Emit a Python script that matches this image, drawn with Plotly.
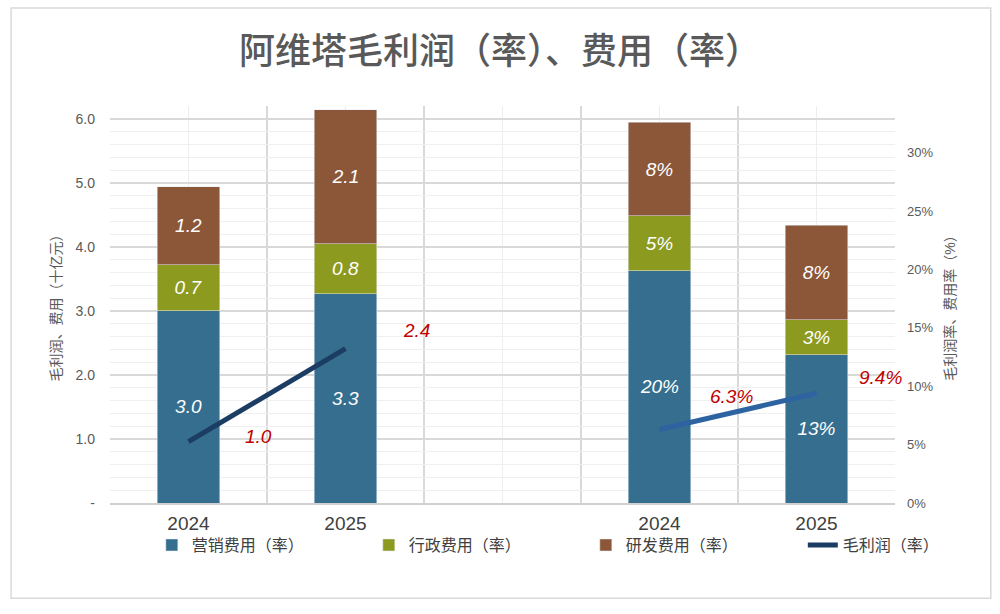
import plotly.graph_objects as go

# category slots: two years in billions, an empty gap, two years as rates
years = ["2024", "2025", "", "2024", "2025"]
x_amt = [0, 1]
x_rate = [3, 4]

# amounts, RMB billion
marketing_amt = [3.0, 3.27]
admin_amt = [0.72, 0.78]
rnd_amt = [1.22, 2.09]
gross_profit_amt = [0.96, 2.41]

# ratios to revenue
marketing_rate = [0.199, 0.127]
admin_rate = [0.047, 0.030]
rnd_rate = [0.080, 0.081]
gross_margin_rate = [0.063, 0.094]

left_ticks = [0, 1, 2, 3, 4, 5, 6]
left_ticktext = ["-", "1.0", "2.0", "3.0", "4.0", "5.0", "6.0"]
right_ticks = [0, 0.05, 0.10, 0.15, 0.20, 0.25, 0.30]
right_ticktext = ["0%", "5%", "10%", "15%", "20%", "25%", "30%"]

C_MKT = "#356E8E"
C_ADM = "#8C9A1F"
C_RND = "#8B5738"
C_GP_AMT = "#1C3D63"
C_GP_RATE = "#2C63A0"
FONT = "Liberation Sans, Noto Sans CJK SC, sans-serif"

fig = go.Figure()

bar_series = [
    ("营销费用（率）", marketing_amt, marketing_rate, C_MKT),
    ("行政费用（率）", admin_amt, admin_rate, C_ADM),
    ("研发费用（率）", rnd_amt, rnd_rate, C_RND),
]
bar_text = dict(color="white", size=19, family=FONT, style="italic")
for name, amt, rate, color in bar_series:
    fig.add_trace(go.Bar(x=x_amt, y=amt, name=name, marker_color=color,
                         width=0.4, texttemplate="%{y:.1f}",
                         textposition="inside", insidetextanchor="middle",
                         textfont=bar_text, legendgroup=name,
                         hoverinfo="skip"))
    fig.add_trace(go.Bar(x=x_rate, y=rate, name=name, marker_color=color,
                         width=0.4, texttemplate="%{y:.0%}",
                         textposition="inside", insidetextanchor="middle",
                         textfont=bar_text, legendgroup=name,
                         showlegend=False, yaxis="y2", hoverinfo="skip"))

fig.add_trace(go.Scatter(x=x_amt, y=gross_profit_amt, mode="lines",
                         name="毛利润（率）", line=dict(color=C_GP_AMT, width=5),
                         hoverinfo="skip"))
fig.add_trace(go.Scatter(x=x_rate, y=gross_margin_rate, mode="lines",
                         name="毛利润（率）", showlegend=False, yaxis="y2",
                         line=dict(color=C_GP_RATE, width=5),
                         hoverinfo="skip"))

# red value labels beside the line ends
label_font = dict(color="#C00000", size=19, family=FONT, style="italic")
amt_shift = [(70, 5), (71, 18)]
rate_shift = [(72, 33), (64, 16)]
for xv, yv, (dx, dy) in zip(x_amt, gross_profit_amt, amt_shift):
    fig.add_annotation(x=xv, y=yv, yref="y", text=f"{yv:.1f}",
                       showarrow=False, xshift=dx, yshift=dy, font=label_font)
for xv, yv, (dx, dy) in zip(x_rate, gross_margin_rate, rate_shift):
    fig.add_annotation(x=xv, y=yv, yref="y2", text=f"{yv * 100:.1f}%",
                       showarrow=False, xshift=dx, yshift=dy, font=label_font)

# outer chart frame
fig.add_shape(type="rect", xref="paper", yref="paper",
              x0=-0.126, x1=1.122, y0=-0.24, y1=1.247,
              line=dict(color="#D9D9D9", width=1.5), layer="below")

fig.update_layout(
    width=1000, height=614,
    barmode="stack",
    plot_bgcolor="white", paper_bgcolor="white",
    font=dict(family=FONT, color="#595959"),
    margin=dict(l=110, r=105, t=106, b=111, autoexpand=False),
    title=dict(text="阿维塔毛利润（率）、费用（率）", x=0.5, xanchor="center",
               y=0.917, yanchor="middle",
               font=dict(size=36, color="#595959", family=FONT, weight=500)),
    xaxis=dict(range=[-0.5, 4.5], tickmode="array",
               tickvals=list(range(len(years))), ticktext=years,
               tickfont=dict(size=19, color="#404040"),
               showgrid=True, gridcolor="#EDEDED", gridwidth=1,
               minor=dict(tick0=0.5, dtick=1, showgrid=True,
                          gridcolor="#D9D9D9", gridwidth=1.5),
               showline=True, linecolor="#D0D0D0", linewidth=1.5,
               ticks="", ticklabelstandoff=2, zeroline=False,
               automargin=False),
    yaxis=dict(range=[0, 6.2], tickmode="array", tickvals=left_ticks,
               ticktext=left_ticktext, tickfont=dict(size=14, color="#595959"),
               showgrid=True, gridcolor="#D9D9D9", gridwidth=1.5,
               minor=dict(dtick=0.2, showgrid=True, gridcolor="#EFEFEF",
                          gridwidth=1),
               zeroline=False, ticks="", ticklabelstandoff=14,
               title=dict(text="毛利润、费用（十亿元）", standoff=10,
                          font=dict(size=14, color="#595959")),
               automargin=False),
    yaxis2=dict(range=[0, 0.34], overlaying="y", side="right",
                tickmode="array", tickvals=right_ticks,
                ticktext=right_ticktext,
                tickfont=dict(size=13, color="#595959"),
                showgrid=False, zeroline=False, ticks="",
                ticklabelstandoff=11,
                title=dict(text="毛利润率、费用率（%）", standoff=12,
                           font=dict(size=14, color="#595959")),
                automargin=False),
    legend=dict(orientation="h", x=1.159, xanchor="right",
                y=-0.106, yanchor="middle",
                entrywidth=172, entrywidthmode="pixels", traceorder="normal",
                bgcolor="rgba(0,0,0,0)",
                font=dict(size=16, color="#404040"), itemwidth=30),
)

fig.write_html("out.html", config={"displayModeBar": False},
               post_script="document.body.style.margin='0';"
                           "document.body.style.overflow='hidden';")
